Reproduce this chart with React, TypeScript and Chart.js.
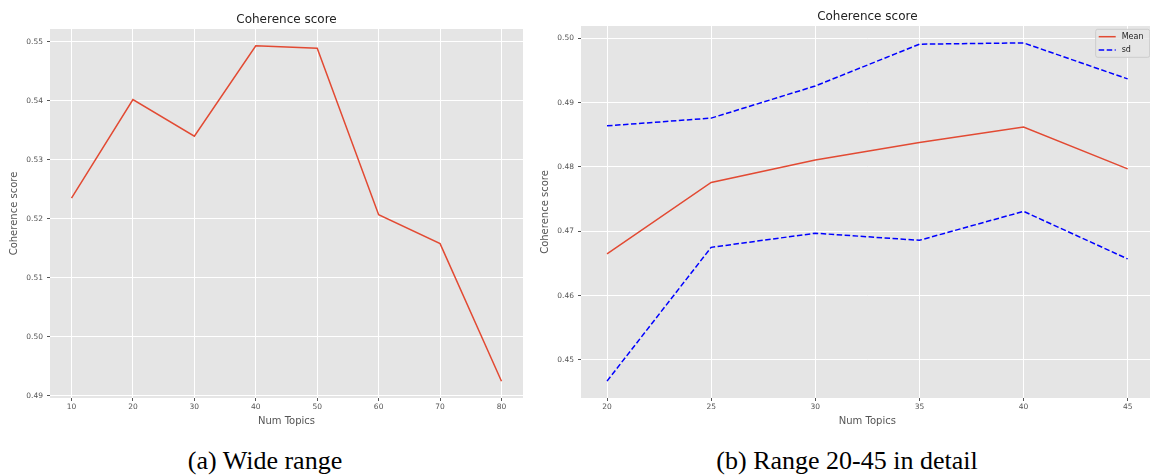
import React, { useEffect, useRef } from 'react';
import { Chart, registerables } from 'chart.js';

Chart.register(...registerables);

// ---------- data ----------
const wideTopics = [10, 20, 30, 40, 50, 60, 70, 80];
const wideScores = [0.5235, 0.5402, 0.534, 0.5493, 0.5489, 0.5207, 0.5158, 0.4925];
const wideXTicks = [10, 20, 30, 40, 50, 60, 70, 80];
const wideYTicks = [0.49, 0.5, 0.51, 0.52, 0.53, 0.54, 0.55];

const detailTopics = [20, 25, 30, 35, 40, 45];
const meanScores = [0.4665, 0.4776, 0.4811, 0.4838, 0.4862, 0.4797];
const sdUpper = [0.4864, 0.4876, 0.4926, 0.4991, 0.4993, 0.4937];
const sdLower = [0.4467, 0.4675, 0.4697, 0.4686, 0.4731, 0.4657];
const detailXTicks = [20, 25, 30, 35, 40, 45];
const detailYTicks = [0.45, 0.46, 0.47, 0.48, 0.49, 0.5];

const chartTitle = 'Coherence score';
const xTitle = 'Num Topics';
const yTitle = 'Coherence score';
const captionA = '(a) Wide range';
const captionB = '(b) Range 20-45 in detail';

// ---------- style ----------
const FONT = "'DejaVu Sans', sans-serif";
const RED = '#E24A33';
const BLUE = '#0000FF';
const BG = '#E5E5E5';
const TICK = '#555555';

const pairs = (xs: number[], ys: number[]) => xs.map((x, i) => ({ x, y: ys[i] }));

const margin = (vals: number[], frac = 0.05) => {
  const lo = Math.min(...vals);
  const hi = Math.max(...vals);
  const d = hi - lo;
  return [lo - d * frac, hi + d * frac];
};

const bgPlugin = {
  id: 'plotBg',
  beforeDraw(chart: any) {
    const { ctx, chartArea } = chart;
    ctx.save();
    ctx.fillStyle = BG;
    ctx.fillRect(chartArea.left, chartArea.top, chartArea.right - chartArea.left, chartArea.bottom - chartArea.top);
    ctx.restore();
  },
};

const cornerLegend = {
  id: 'cornerLegend',
  afterDatasetsDraw(chart: any) {
    const { ctx, chartArea } = chart;
    const items = chart.data.datasets.filter((d: any) => d.inLegend);
    if (!items.length) return;
    const right = chartArea.right - 4;
    const top = chartArea.top + 3.3;
    const w = 54;
    const h = 28;
    const left = right - w;
    ctx.save();
    ctx.beginPath();
    const r = 2;
    ctx.moveTo(left + r, top);
    ctx.lineTo(right - r, top);
    ctx.quadraticCurveTo(right, top, right, top + r);
    ctx.lineTo(right, top + h - r);
    ctx.quadraticCurveTo(right, top + h, right - r, top + h);
    ctx.lineTo(left + r, top + h);
    ctx.quadraticCurveTo(left, top + h, left, top + h - r);
    ctx.lineTo(left, top + r);
    ctx.quadraticCurveTo(left, top, left + r, top);
    ctx.closePath();
    ctx.fillStyle = 'rgba(229,229,229,0.8)';
    ctx.fill();
    ctx.strokeStyle = '#CCCCCC';
    ctx.lineWidth = 1;
    ctx.stroke();
    items.forEach((d: any, i: number) => {
      const y = top + 7.4 + i * 13.3;
      ctx.beginPath();
      ctx.setLineDash(d.borderDash || []);
      ctx.strokeStyle = d.borderColor;
      ctx.lineWidth = d.borderWidth;
      ctx.moveTo(left + 3, y);
      ctx.lineTo(left + 20, y);
      ctx.stroke();
      ctx.setLineDash([]);
      ctx.fillStyle = '#222';
      ctx.font = `8px ${FONT}`;
      ctx.textAlign = 'left';
      ctx.textBaseline = 'middle';
      ctx.fillText(d.label, left + 26, y);
    });
    ctx.restore();
  },
};

function makeOptions(p: {
  xMin: number; xMax: number; yMin: number; yMax: number;
  xTicks: number[]; yTicks: number[];
  yAxisWidth: number; yTitlePad: number;
  titlePadTop: number; padRight: number;
}) {
  return {
    responsive: false,
    animation: false as const,
    devicePixelRatio: 1,
    layout: { padding: { left: 0, right: p.padRight, top: 0, bottom: 10 } },
    plugins: {
      legend: { display: false },
      tooltip: { enabled: false },
      title: {
        display: true,
        text: chartTitle,
        fullSize: false,
        color: '#222',
        font: { family: FONT, size: 12, lineHeight: 1.2, weight: 'normal' as const },
        padding: { top: p.titlePadTop, bottom: 2.3 },
      },
    },
    scales: {
      x: {
        type: 'linear' as const,
        min: p.xMin,
        max: p.xMax,
        afterBuildTicks: (s: any) => { s.ticks = p.xTicks.map((v) => ({ value: v })); },
        afterFit: (s: any) => { s.height = 32; },
        ticks: {
          color: TICK,
          font: { family: FONT, size: 7.5, lineHeight: 1.2 },
          padding: 2,
          maxRotation: 0,
          autoSkip: false,
          callback: (v: any) => String(v),
        },
        grid: { color: '#FFFFFF', lineWidth: 1, drawTicks: true, tickLength: 3, tickColor: TICK, tickWidth: 1 },
        border: { display: false },
        title: {
          display: true,
          text: xTitle,
          color: TICK,
          font: { family: FONT, size: 10, lineHeight: 1.2 },
          padding: { top: 0, bottom: 3 },
        },
      },
      y: {
        type: 'linear' as const,
        min: p.yMin,
        max: p.yMax,
        afterBuildTicks: (s: any) => { s.ticks = p.yTicks.map((v) => ({ value: v })); },
        afterFit: (s: any) => { s.width = p.yAxisWidth; },
        ticks: {
          color: TICK,
          font: { family: FONT, size: 7.5, lineHeight: 1.2 },
          padding: 4,
          autoSkip: false,
          callback: (v: any) => Number(v).toFixed(2),
        },
        grid: { color: '#FFFFFF', lineWidth: 1, drawTicks: true, tickLength: 3, tickColor: TICK, tickWidth: 1 },
        border: { display: false },
        title: {
          display: true,
          text: yTitle,
          color: TICK,
          font: { family: FONT, size: 10, lineHeight: 1.2 },
          padding: { top: p.yTitlePad, bottom: 0 },
        },
      },
    },
  };
}

function WideChart() {
  const ref = useRef<HTMLCanvasElement>(null);
  useEffect(() => {
    if (!ref.current) return;
    const [yMin, yMax] = margin(wideScores);
    const [xMin, xMax] = margin(wideTopics);
    const chart = new Chart(ref.current, {
      type: 'line',
      data: {
        datasets: [
          {
            label: 'Coherence',
            data: pairs(wideTopics, wideScores),
            borderColor: RED,
            borderWidth: 1.5,
            pointRadius: 0,
            tension: 0,
            fill: false,
          },
        ],
      },
      options: makeOptions({
        xMin, xMax, yMin, yMax,
        xTicks: wideXTicks, yTicks: wideYTicks,
        yAxisWidth: 50, yTitlePad: 8, titlePadTop: 12.3, padRight: 7,
      }) as any,
      plugins: [bgPlugin],
    });
    return () => chart.destroy();
  }, []);
  return <canvas ref={ref} width={530} height={440} style={{ position: 'absolute', left: 0, top: 0, width: 530, height: 440 }} />;
}

function DetailChart() {
  const ref = useRef<HTMLCanvasElement>(null);
  useEffect(() => {
    if (!ref.current) return;
    const [yMin, yMax] = margin([...meanScores, ...sdUpper, ...sdLower]);
    const [xMin, xMax] = margin(detailTopics);
    const chart = new Chart(ref.current, {
      type: 'line',
      data: {
        datasets: [
          {
            label: 'Mean',
            inLegend: true,
            data: pairs(detailTopics, meanScores),
            borderColor: RED,
            borderWidth: 1.5,
            pointRadius: 0,
            tension: 0,
            fill: false,
          },
          {
            label: 'sd',
            inLegend: true,
            data: pairs(detailTopics, sdUpper),
            borderColor: BLUE,
            borderWidth: 1.5,
            borderDash: [5.5, 2.5],
            pointRadius: 0,
            tension: 0,
            fill: false,
          },
          {
            label: 'sd (lower)',
            inLegend: false,
            data: pairs(detailTopics, sdLower),
            borderColor: BLUE,
            borderWidth: 1.5,
            borderDash: [5.5, 2.5],
            pointRadius: 0,
            tension: 0,
            fill: false,
          },
        ] as any,
      },
      options: makeOptions({
        xMin, xMax, yMin, yMax,
        xTicks: detailXTicks, yTicks: detailYTicks,
        yAxisWidth: 42, yTitlePad: 0, titlePadTop: 9.3, padRight: 6.3,
      }) as any,
      plugins: [bgPlugin, cornerLegend],
    });
    return () => chart.destroy();
  }, []);
  return <canvas ref={ref} width={621} height={440} style={{ position: 'absolute', left: 539, top: 0, width: 621, height: 440 }} />;
}

const captionStyle: React.CSSProperties = {
  position: 'absolute',
  top: 446,
  height: 30,
  lineHeight: '30px',
  fontFamily: "'Liberation Serif', 'Times New Roman', serif",
  fontSize: 26,
  color: '#000',
  textAlign: 'center',
  whiteSpace: 'nowrap',
};

export default function App() {
  return (
    <div
      style={{
        position: 'fixed',
        left: 0,
        top: 0,
        width: 1150,
        height: 476,
        overflow: 'hidden',
        background: '#FFFFFF',
      }}
    >
      <WideChart />
      <DetailChart />
      <div style={{ ...captionStyle, left: 65, width: 400 }}>{captionA}</div>
      <div style={{ ...captionStyle, left: 647, width: 400 }}>{captionB}</div>
    </div>
  );
}
